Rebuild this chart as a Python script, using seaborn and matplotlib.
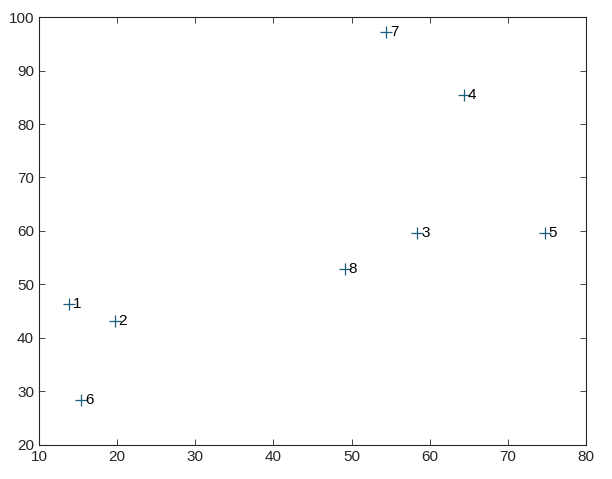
import matplotlib
matplotlib.use("Agg")
import matplotlib.pyplot as plt
import seaborn as sns
import pandas as pd

# point coordinates
x_vals = [13.9, 19.7, 58.4, 64.4, 74.7, 15.4, 54.4, 49.1]
y_vals = [46.4, 43.2, 59.6, 85.4, 59.6, 28.4, 97.2, 52.9]
labels = ["1", "2", "3", "4", "5", "6", "7", "8"]

df = pd.DataFrame({"x": x_vals, "y": y_vals, "label": labels})

sns.set_style("white")
plt.rcParams['font.family'] = ['Liberation Sans', 'DejaVu Sans']

fig = plt.figure(figsize=(6.12, 4.79), dpi=100)
ax = fig.add_axes([0.0637, 0.071, 0.8938, 0.8935])

sns.scatterplot(data=df, x="x", y="y", marker="+", s=70, color="#1b5e7a",
                linewidth=0.9, ax=ax, legend=False)

for _, row in df.iterrows():
    ax.text(row["x"] + 0.5, row["y"], row["label"], fontsize=11,
            va="center", ha="left", color="black")

ax.set_xlim(10, 80)
ax.set_ylim(20, 100)
ax.set_xticks(range(10, 81, 10))
ax.set_yticks(range(20, 101, 10))
ax.set_xlabel("")
ax.set_ylabel("")
ax.tick_params(direction="in", length=4, width=0.6, labelsize=11, colors="#262626",
               top=True, right=True, bottom=True, left=True, labelcolor="#262626")
for sp in ax.spines.values():
    sp.set_visible(True)
    sp.set_color("#262626")
    sp.set_linewidth(0.8)

fig.savefig("out.png", dpi=100)
